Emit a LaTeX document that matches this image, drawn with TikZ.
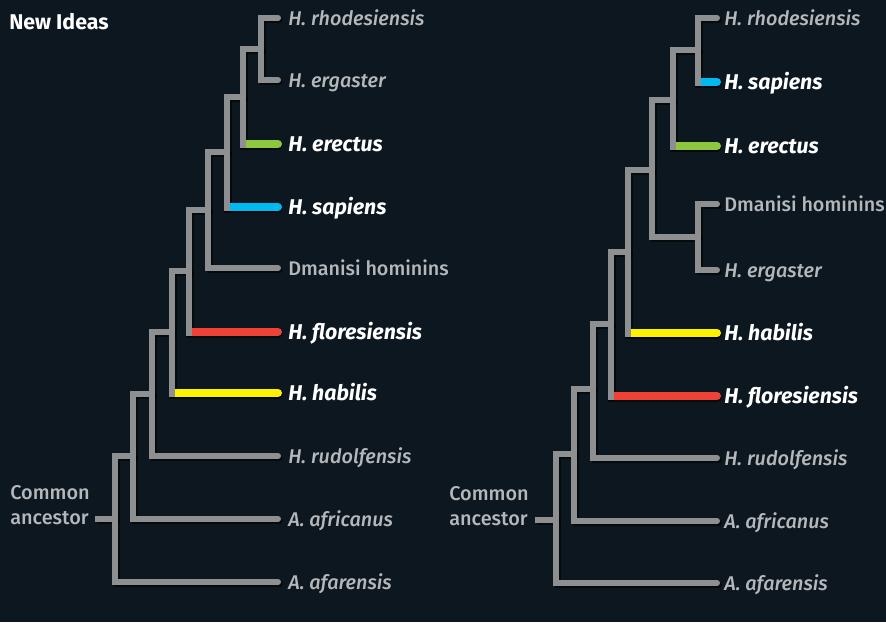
\documentclass[tikz,border=0pt]{standalone}
\usepackage{fontspec}
\setmainfont{Fira Sans}
\newfontfamily\firamed{Fira Sans Medium}[ItalicFont={Fira Sans Medium Italic}]
\definecolor{bgc}{HTML}{0C171F}
\definecolor{linegray}{HTML}{8E8F91}
\definecolor{labgray}{HTML}{B5B8BB}
\definecolor{hlgreen}{HTML}{8DC63F}
\definecolor{hlblue}{HTML}{00B9F1}
\definecolor{hlred}{HTML}{EF4136}
\definecolor{hlyellow}{HTML}{FFF200}
\newcommand\drawbranches[1]{%
  % left tree
  \draw[#1] (a1) |- (L1); \draw[#1] (a1) |- (L2);
  \draw[#1] (a2) |- (a1); \draw[#1] (a2) |- (L3);
  \draw[#1] (a3) |- (a2); \draw[#1] (a3) |- (L4);
  \draw[#1] (a4) |- (a3); \draw[#1] (a4) |- (L5);
  \draw[#1] (a5) |- (a4); \draw[#1] (a5) |- (L6);
  \draw[#1] (a6) |- (a5); \draw[#1] (a6) |- (L7);
  \draw[#1] (a7) |- (a6); \draw[#1] (a7) |- (L8);
  \draw[#1] (a8) |- (a7); \draw[#1] (a8) |- (L9);
  \draw[#1] (a9) |- (a8); \draw[#1] (a9) |- (L10);
  \draw[#1,line cap=butt] (rootA) -- (a9);
  % right tree
  \draw[#1] (b1) |- (R1); \draw[#1] (b1) |- (R2);
  \draw[#1] (b2) |- (b1); \draw[#1] (b2) |- (R3);
  \draw[#1] (b3) |- (R4); \draw[#1] (b3) |- (R5);
  \draw[#1] (b4) |- (b2); \draw[#1] (b4) |- (b3);
  \draw[#1] (b5) |- (b4); \draw[#1] (b5) |- (R6);
  \draw[#1] (b6) |- (b5); \draw[#1] (b6) |- (R7);
  \draw[#1] (b7) |- (b6); \draw[#1] (b7) |- (R8);
  \draw[#1] (b8) |- (b7); \draw[#1] (b8) |- (R9);
  \draw[#1] (b9) |- (b8); \draw[#1] (b9) |- (R10);
  \draw[#1,line cap=butt] (rootB) -- (b9);
}
\newcommand\hlbranch[3]{% parent node, leaf, colour
  \fill[black,opacity=0.55] ([xshift=-2.25pt,yshift=-4.6pt]#1 |- #2) rectangle ([xshift=1.2pt,yshift=1.4pt]#2);
  \fill[linegray] ([xshift=-2.25pt,yshift=-3pt]#1 |- #2) rectangle ([xshift=2.25pt,yshift=3pt]#1 |- #2);
  \draw[line width=6pt,line cap=butt,draw=#3] ([xshift=2.25pt]#1 |- #2) -- (#2);
  \fill[#3] (#2) circle (3pt);
}
\begin{document}
\begin{tikzpicture}[x=0.75pt,y=-0.75pt,
  branch/.style={draw=linegray,line width=4.5pt,line cap=round,line join=miter},
  shadowb/.style={draw=black,opacity=0.55,line width=4.5pt,line cap=round,line join=miter,
     transform canvas={xshift=1.2pt,yshift=-1.6pt}},
  lab/.style={anchor=base west,inner sep=0pt,text=labgray,font=\firamed\fontsize{14.9}{18}\selectfont\itshape},
  labup/.style={lab,font=\firamed\fontsize{14.8}{18}\selectfont},
  labhl/.style={lab,text=white,font=\fontsize{16}{18}\selectfont\bfseries\itshape},
  anc/.style={anchor=base west,inner sep=0pt,text=labgray,font=\firamed\fontsize{14.9}{18.75}\selectfont,align=left}]
\fill[bgc] (0,0) rectangle (886,622);
\useasboundingbox (0,0) rectangle (886,622);
% left tree coordinates
\coordinate (L1) at (278,18);
\coordinate (L2) at (278,80);
\coordinate (L3) at (278,144);
\coordinate (L4) at (278,207);
\coordinate (L5) at (278,268);
\coordinate (L6) at (278,332);
\coordinate (L7) at (278,393);
\coordinate (L8) at (278,456);
\coordinate (L9) at (278,519);
\coordinate (L10) at (278,582);
\coordinate (a1) at (261,49);
\coordinate (a2) at (243,97);
\coordinate (a3) at (227,152);
\coordinate (a4) at (208,210);
\coordinate (a5) at (189,271);
\coordinate (a6) at (172,332);
\coordinate (a7) at (152,394);
\coordinate (a8) at (133,456);
\coordinate (a9) at (115,519);
\coordinate (rootA) at (95,519);
% right tree coordinates
\coordinate (R1) at (717,18);
\coordinate (R2) at (717,82);
\coordinate (R3) at (717,146);
\coordinate (R4) at (717,204);
\coordinate (R5) at (717,270);
\coordinate (R6) at (717,333);
\coordinate (R7) at (717,396);
\coordinate (R8) at (717,458);
\coordinate (R9) at (717,521);
\coordinate (R10) at (717,583);
\coordinate (b1) at (698,50);
\coordinate (b2) at (673,100);
\coordinate (b3) at (698,237);
\coordinate (b4) at (652,170);
\coordinate (b5) at (628,252);
\coordinate (b6) at (611,324);
\coordinate (b7) at (593,389);
\coordinate (b8) at (574,454);
\coordinate (b9) at (556,520);
\coordinate (rootB) at (535,520);
% shadows, then branches
\drawbranches{shadowb}
\drawbranches{branch}
% highlighted branches
\hlbranch{a2}{L3}{hlgreen}
\hlbranch{a3}{L4}{hlblue}
\hlbranch{a5}{L6}{hlred}
\hlbranch{a6}{L7}{hlyellow}
\hlbranch{b1}{R2}{hlblue}
\hlbranch{b2}{R3}{hlgreen}
\hlbranch{b5}{R6}{hlyellow}
\hlbranch{b6}{R7}{hlred}
% title
\node[anchor=base west,inner sep=0pt,text=white,font=\fontsize{16}{18}\selectfont\bfseries] (title) at (9,29) {New Ideas};
% left labels
\node[lab] (tL1) at (288,25) {H. rhodesiensis};
\node[lab] (tL2) at (288,87) {H. ergaster};
\node[labhl] (tL3) at (288,151) {H. erectus};
\node[labhl] (tL4) at (288,214) {H. sapiens};
\node[labup] (tL5) at (288,275) {Dmanisi hominins};
\node[labhl] (tL6) at (288,339) {H. floresiensis};
\node[labhl] (tL7) at (288,400) {H. habilis};
\node[lab] (tL8) at (288,463) {H. rudolfensis};
\node[lab] (tL9) at (288,526) {A. africanus};
\node[lab] (tL10) at (288,589) {A. afarensis};
\node[anc] (ancA) at (10,524) {Common\\ancestor};
% right labels
\node[lab] (tR1) at (724,25) {H. rhodesiensis};
\node[labhl] (tR2) at (724,89) {H. sapiens};
\node[labhl] (tR3) at (724,153) {H. erectus};
\node[labup] (tR4) at (724,211) {Dmanisi hominins};
\node[lab] (tR5) at (724,277) {H. ergaster};
\node[labhl] (tR6) at (724,340) {H. habilis};
\node[labhl] (tR7) at (724,403) {H. floresiensis};
\node[lab] (tR8) at (724,465) {H. rudolfensis};
\node[lab] (tR9) at (724,528) {A. africanus};
\node[lab] (tR10) at (724,590) {A. afarensis};
\node[anc] (ancB) at (449,525) {Common\\ancestor};
\end{tikzpicture}
\end{document}
